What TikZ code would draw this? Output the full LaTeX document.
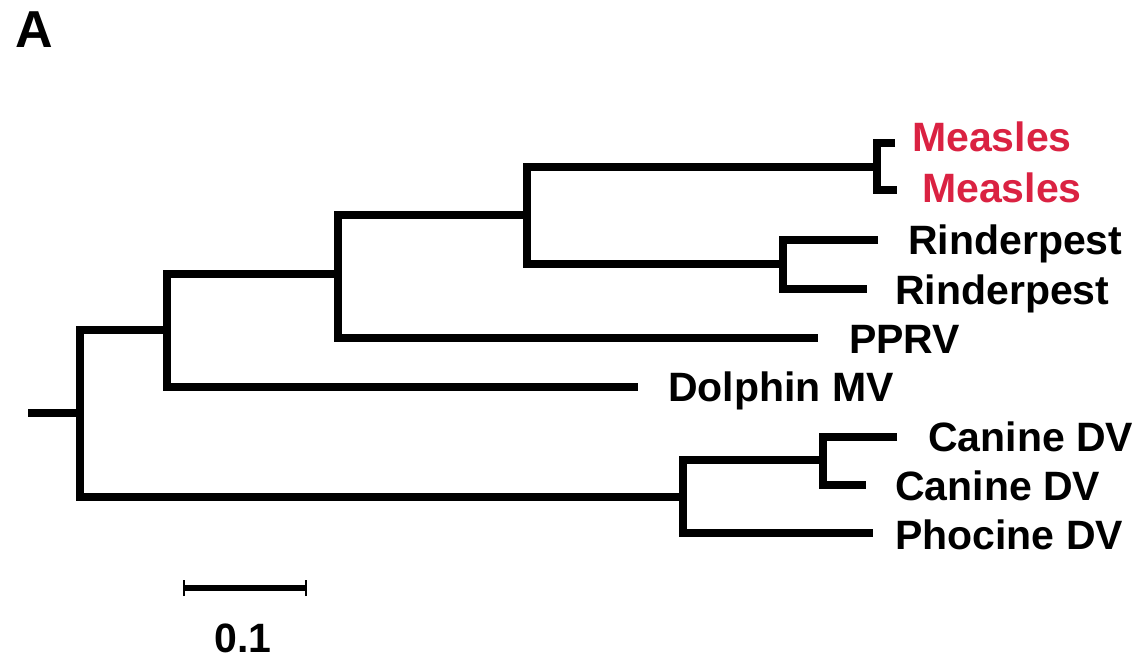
\documentclass[tikz,border=0pt]{standalone}
\usepackage{fontspec}
\setmainfont{Liberation Sans}
\definecolor{measred}{RGB}{218,34,66}
\tikzset{
  branch/.style={line width=7.5bp, line join=miter, line cap=butt},
  lab/.style={font=\fontsize{41bp}{48bp}\selectfont\bfseries, inner sep=0pt, anchor=base west},
  redlab/.style={lab, text=measred},
}
\begin{document}
\begin{tikzpicture}[x=1bp,y=-1bp]
\useasboundingbox (0,0) rectangle (1137,663);
% internal nodes
\coordinate (root) at (28,413);
\coordinate (n0) at (80,413);
\coordinate (n1) at (167,330);
\coordinate (n2) at (338,274);
\coordinate (n3) at (527,215);
\coordinate (n4) at (877,167);
\coordinate (n5) at (783,264);
\coordinate (n6) at (683,497);
\coordinate (n7) at (823,460);
% tips
\coordinate (tM1) at (895,143);
\coordinate (tM2) at (897,190);
\coordinate (tR1) at (878,240);
\coordinate (tR2) at (867,289);
\coordinate (tPP) at (818,338);
\coordinate (tD) at (638,387);
\coordinate (tC1) at (897,437);
\coordinate (tC2) at (866,485);
\coordinate (tP) at (873,533);
% branches
\draw[branch] (root) -- (n0);
\draw[branch] (n1) -| (n0) |- (n6);
\draw[branch] (n2) -| (n1) |- (tD);
\draw[branch] (n3) -| (n2) |- (tPP);
\draw[branch] (n4) -| (n3) |- (n5);
\draw[branch] (tM1) -| (n4) |- (tM2);
\draw[branch] (tR1) -| (n5) |- (tR2);
\draw[branch] (n7) -| (n6) |- (tP);
\draw[branch] (tC1) -| (n7) |- (tC2);
% labels
\node[redlab] (lM1) at (912,152) {Measles};
\node[redlab] (lM2) at (922,203) {Measles};
\node[lab] (lR1) at (908,254) {Rinderpest};
\node[lab] (lR2) at (895,304) {Rinderpest};
\node[lab] (lPP) at (849,353) {PPRV};
\node[lab] (lD) at (668,401) {Dolphin MV};
\node[lab] (lC1) at (928,451) {Canine DV};
\node[lab] (lC2) at (895,500) {Canine DV};
\node[lab] (lP) at (895,549) {Phocine DV};
% scale bar
\coordinate (sb1) at (184,588);
\coordinate (sb2) at (306,588);
\draw[line width=6bp] (sb1) -- (sb2);
\draw[line width=2.5bp] ([yshift=-8bp]sb1) -- ([yshift=8bp]sb1);
\draw[line width=2.5bp] ([yshift=-8bp]sb2) -- ([yshift=8bp]sb2);
\node[lab, anchor=base] (scl) at (243,652) {0.1};
% panel letter
\node[font=\fontsize{52bp}{60bp}\selectfont\bfseries, inner sep=0pt, anchor=base west] (pA) at (15,48) {A};
\end{tikzpicture}
\end{document}
